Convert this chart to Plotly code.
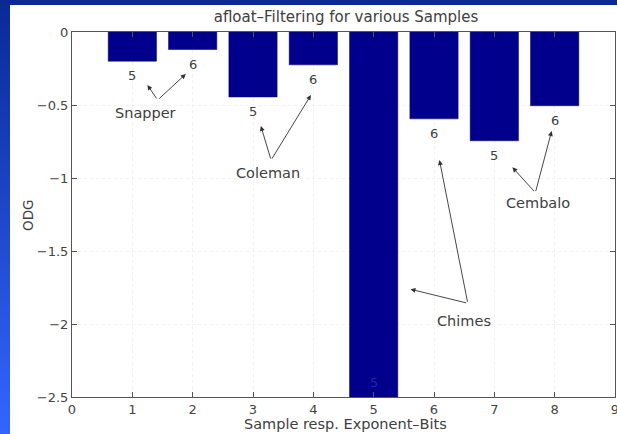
import base64
import plotly.graph_objects as go

# ---- data ----
samples = [1, 2, 3, 4, 5, 6, 7, 8]
odg = [-0.20, -0.12, -0.445, -0.225, -2.5, -0.595, -0.745, -0.505]
exp_bits = ["5", "6", "5", "6", "5", "6", "5", "6"]
x_ticks = [0, 1, 2, 3, 4, 5, 6, 7, 8, 9]
y_ticks = [0, -0.5, -1, -1.5, -2, -2.5]
title_text = "afloat\u2013Filtering for various Samples"
x_title = "Sample resp. Exponent\u2013Bits"
y_title = "ODG"

# group labels: name, text position, arrow tail, arrow heads
groups = [
    ("Snapper", (1.22, -0.555), (1.42, -0.466), [(1.25, -0.363), (1.885, -0.288)]),
    ("Coleman", (3.25, -0.966), (3.30, -0.877), [(3.13, -0.644), (3.96, -0.432)]),
    ("Chimes", (6.50, -1.98), (6.56, -1.858), [(6.09, -0.877), (5.61, -1.762)]),
    ("Cembalo", (7.72, -1.17), (7.68, -1.10), [(7.30, -0.927), (7.95, -0.678)]),
]

W, H = 617, 434
ML, MR, MT, MB = 72, 2, 32, 37
PW, PH = W - ML - MR, H - MT - MB

svg = (
    f"<svg xmlns='http://www.w3.org/2000/svg' width='{W}' height='{H}'>"
    "<defs><linearGradient id='g' x1='0' y1='0' x2='0' y2='1'>"
    "<stop offset='0' stop-color='#0a2996'/><stop offset='1' stop-color='#3365ff'/>"
    "</linearGradient></defs>"
    f"<rect width='{W}' height='{H}' fill='url(#g)'/>"
    f"<rect x='10' y='5' width='{W-10}' height='{H-5}' fill='white'/></svg>"
)
src = "data:image/svg+xml;base64," + base64.b64encode(svg.encode()).decode()

fig = go.Figure()
fig.add_trace(go.Bar(
    x=samples, y=odg, width=0.8,
    marker=dict(color="#00008c", line=dict(color="#000060", width=0.5)),
    hoverinfo="skip",
))

font = dict(family="DejaVu Sans, Liberation Sans, sans-serif", color="#404040")
annotations = []
for xv, yv, t in zip(samples, odg, exp_bits):
    if yv <= y_ticks[-1]:
        annotations.append(dict(x=xv, y=yv + 0.1, text=t, showarrow=False,
                                font=dict(font, size=13, color="#2424a8")))
    else:
        annotations.append(dict(x=xv, y=yv - 0.1, text=t, showarrow=False,
                                font=dict(font, size=13)))

for name, (tx, ty), (ax, ay), heads in groups:
    annotations.append(dict(x=tx, y=ty, text=name, showarrow=False,
                            font=dict(font, size=14.5)))
    for hx, hy in heads:
        annotations.append(dict(x=hx, y=hy, ax=ax, ay=ay, axref="x", ayref="y",
                                text="", showarrow=True, arrowhead=2, arrowsize=1.1,
                                arrowwidth=0.9, arrowcolor="#333333"))

annotations.append(dict(xref="paper", yref="paper",
                        x=(345 - ML) / PW, y=-(424 - MT - PH) / PH,
                        text=x_title, showarrow=False, font=dict(font, size=14.5),
                        yanchor="middle"))
annotations.append(dict(xref="paper", yref="paper",
                        x=(18 - ML) / PW, y=1 - (216 - MT) / PH,
                        text=y_title, textangle=-90, showarrow=False,
                        font=dict(font, size=13.5)))

axis_common = dict(showline=True, linecolor="#555555", linewidth=1, mirror="ticks",
                   ticks="inside", ticklen=5, tickcolor="#555555",
                   showgrid=True, gridcolor="#f2f2f2", griddash="dot", gridwidth=1,
                   zeroline=False, tickfont=dict(font, size=13, color="#444444"),
                   ticklabeloverflow="allow", automargin=False)

fig.update_layout(
    width=W, height=H,
    margin=dict(l=ML, r=MR, t=MT, b=MB, autoexpand=False),
    paper_bgcolor="#1a3fc8", plot_bgcolor="rgba(0,0,0,0)",
    showlegend=False,
    title=dict(text=title_text, x=346 / W, xanchor="center",
               y=1 - 17 / H, yanchor="middle", font=dict(font, size=15)),
    xaxis=dict(axis_common, range=[0, 9], tickvals=x_ticks, ticktext=[str(v) for v in x_ticks]),
    yaxis=dict(axis_common, range=[-2.5, 0], tickvals=y_ticks),
    annotations=annotations,
    images=[dict(source=src, xref="paper", yref="paper",
                 x=-ML / PW, y=1 + MT / PH, sizex=W / PW, sizey=H / PH,
                 xanchor="left", yanchor="top", sizing="stretch", layer="below")],
)

fig.write_html("out.html")
